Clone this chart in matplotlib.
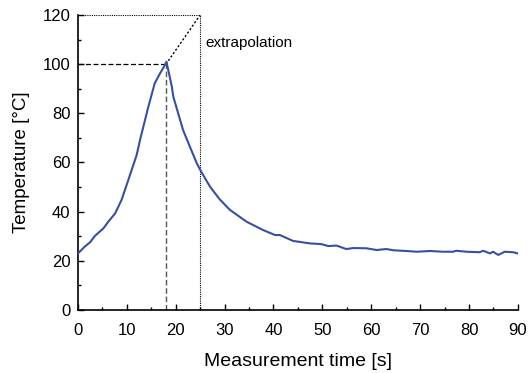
import matplotlib
matplotlib.use("Agg")
import matplotlib.pyplot as plt
from matplotlib.ticker import MultipleLocator

plt.rcParams['font.family'] = ['Liberation Sans', 'DejaVu Sans']

time_s = [0.0, 1.4, 2.5, 3.5, 5.2, 6.2, 7.6, 8.9, 10.3, 12.0, 12.7, 14.4, 15.7, 16.8,
          17.8, 18.1, 19.2, 19.5, 20.5, 21.5, 22.9, 24.3, 25.2, 27.0, 29.0, 31.1,
          34.5, 37.9, 40.3, 41.3, 44.0, 47.4, 49.8, 51.2, 52.9, 54.9, 56.3, 59.0,
          61.1, 63.1, 64.5, 67.2, 69.3, 72.0, 74.7, 76.7, 77.4, 79.5, 82.2, 82.9,
          84.3, 84.9, 86.0, 87.3, 89.0, 90.0]
temp_c = [23.0, 25.8, 27.6, 30.2, 33.2, 35.9, 39.3, 44.7, 52.9, 63.0, 69.2, 82.7, 92.2, 96.3,
          99.7, 101.0, 90.9, 86.8, 80.0, 73.2, 66.4, 59.7, 56.3, 50.2, 45.0, 40.7,
          35.9, 32.5, 30.5, 30.5, 28.1, 27.1, 26.8, 26.0, 26.2, 24.8, 25.2, 25.1,
          24.4, 24.8, 24.3, 24.0, 23.7, 24.0, 23.7, 23.7, 24.1, 23.7, 23.5, 24.1,
          23.0, 23.7, 22.4, 23.7, 23.5, 23.0]

peak_time = 18
peak_temp = 100
extrap_time = 25
extrap_temp = 120

fig = plt.figure(figsize=(5.29, 3.73), dpi=100)
ax = fig.add_axes([0.1474, 0.1689, 0.979 - 0.1474, 0.9598 - 0.1689])

ax.plot(time_s, temp_c, color='#3a4f9e', lw=1.5, zorder=3)

# guide lines
ax.plot([0, peak_time], [peak_temp, peak_temp], color='black', lw=0.9, ls=(0, (4, 2)))
ax.plot([peak_time, peak_time], [0, peak_temp], color='#555555', lw=1.0, ls=(0, (4, 2)))
ax.plot([peak_time, extrap_time], [peak_temp, extrap_temp], color='black', lw=1.0, ls=(0, (1.5, 1.5)))
ax.plot([extrap_time, extrap_time], [0, extrap_temp], color='black', lw=0.8, ls=(0, (1, 1)))
ax.plot([0, extrap_time], [extrap_temp, extrap_temp], color='black', lw=0.8, ls=(0, (1, 1)))

ax.text(26.0, 108.5, 'extrapolation', fontsize=11, va='center', ha='left')

ax.set_xlim(0, 90)
ax.set_ylim(0, 120)
ax.xaxis.set_major_locator(MultipleLocator(10))
ax.xaxis.set_minor_locator(MultipleLocator(5))
ax.yaxis.set_major_locator(MultipleLocator(20))
ax.yaxis.set_minor_locator(MultipleLocator(10))
ax.tick_params(which='both', direction='in', labelsize=12)
ax.tick_params(which='major', length=4, width=1)
ax.tick_params(which='minor', length=2.5, width=1)
ax.tick_params(axis='x', pad=9)
ax.tick_params(axis='y', pad=5.5)
for s in ['top', 'right']:
    ax.spines[s].set_visible(False)
for s in ['left', 'bottom']:
    ax.spines[s].set_linewidth(1.2)

ax.set_xlabel('Measurement time [s]', fontsize=14, labelpad=11)
ax.set_ylabel('Temperature [°C]', fontsize=13.5, labelpad=9)

fig.savefig('out.png', dpi=100)
